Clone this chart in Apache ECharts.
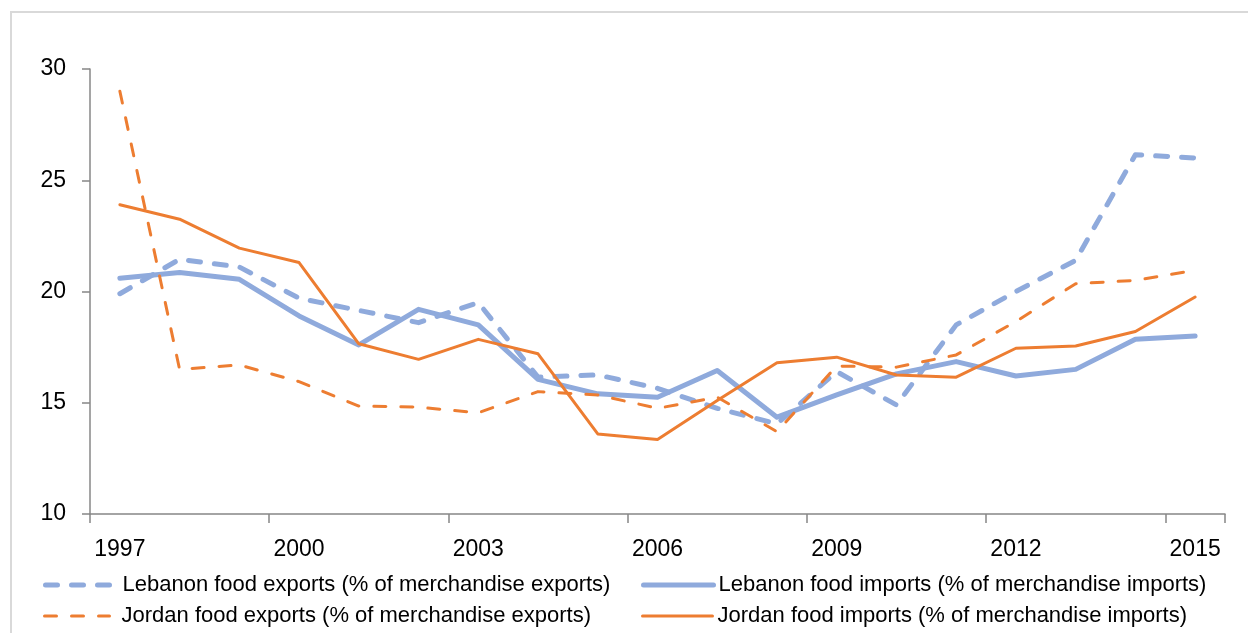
<!DOCTYPE html>
<html>
<head>
<meta charset="utf-8">
<script src="https://cdn.jsdelivr.net/npm/echarts@6/dist/echarts.min.js"></script>
<style>
  html, body { margin: 0; padding: 0; background: #fff; }
  #chart { width: 1248px; height: 633px; }
</style>
</head>
<body>
<div id="chart"></div>
<script>
// Years on the category axis
const years = ['1997','1998','1999','2000','2001','2002','2003','2004','2005','2006',
               '2007','2008','2009','2010','2011','2012','2013','2014','2015'];

// Food trade shares, % of merchandise trade
const lebanonExports = [19.9, 21.45, 21.1, 19.7, 19.15, 18.6, 19.5, 16.15, 16.25, 15.65,
                        14.75, 14.05, 16.4, 14.9, 18.5, 20.0, 21.4, 26.15, 26.0];
const lebanonImports = [20.6, 20.85, 20.55, 18.9, 17.6, 19.2, 18.5, 16.05, 15.4, 15.25,
                        16.45, 14.35, 15.35, 16.3, 16.85, 16.2, 16.5, 17.85, 18.0];
const jordanExports  = [29.0, 16.5, 16.7, 15.95, 14.85, 14.8, 14.55, 15.5, 15.35, 14.75,
                        15.25, 13.7, 16.65, 16.6, 17.15, 18.65, 20.35, 20.5, 20.95];
const jordanImports  = [23.9, 23.25, 21.95, 21.3, 17.65, 16.95, 17.85, 17.2, 13.6, 13.35,
                        15.1, 16.8, 17.05, 16.25, 16.15, 17.45, 17.55, 18.2, 19.75];

const seriesNames = [
  'Lebanon food exports (% of merchandise exports)',
  'Lebanon food imports (% of merchandise imports)',
  'Jordan food exports (% of merchandise exports)',
  'Jordan food imports (% of merchandise imports)'
];

const BLUE = '#8faadc';
const ORANGE = '#ed7d31';
const AXIS = '#878787';
const FONT = 'Liberation Sans';

const styles = [
  { color: BLUE,   width: 5, type: [12, 14], cap: 'round' },
  { color: BLUE,   width: 5, type: 'solid',  cap: 'round' },
  { color: ORANGE, width: 3, type: [12, 15], cap: 'round' },
  { color: ORANGE, width: 3, type: 'solid',  cap: 'round' }
];
const values = [lebanonExports, lebanonImports, jordanExports, jordanImports];

// legend entries laid out in two columns, two rows
const legendPos = [
  { left: 43,  top: 574, itemWidth: 65, pad: 7 },
  { left: 641, top: 574, itemWidth: 70, pad: 0 },
  { left: 43,  top: 605, itemWidth: 65, pad: 7 },
  { left: 641, top: 605, itemWidth: 70, pad: 0 }
];

const chart = echarts.init(document.getElementById('chart'), null, { renderer: 'canvas' });

chart.setOption({
  animation: false,
  backgroundColor: '#fff',
  textStyle: { fontFamily: FONT },
  graphic: [{
    type: 'rect',
    shape: { x: 11, y: 12, width: 1400, height: 800 },
    style: { fill: 'none', stroke: '#d9d9d9', lineWidth: 2 },
    silent: true,
    z: -1
  }],
  grid: { left: 90, right: 23, top: 69, bottom: 119, containLabel: false },
  xAxis: {
    type: 'category',
    data: years,
    boundaryGap: true,
    axisLine: { lineStyle: { color: AXIS, width: 1.5 } },
    axisTick: { show: true, interval: 2, length: 9, lineStyle: { color: AXIS, width: 1.5 } },
    axisLabel: { interval: 2, margin: 24, color: '#000', fontSize: 23, fontFamily: FONT },
    splitLine: { show: false }
  },
  yAxis: {
    type: 'value',
    min: 10, max: 30, interval: 5,
    axisLine: { show: true, lineStyle: { color: AXIS, width: 1.5 } },
    axisTick: { show: true, length: 8, lineStyle: { color: AXIS, width: 1.5 } },
    axisLabel: { margin: 24, color: '#000', fontSize: 23, fontFamily: FONT },
    splitLine: { show: false }
  },
  legend: legendPos.map((p, i) => ({
    show: true,
    orient: 'horizontal',
    left: p.left,
    top: p.top,
    padding: 0,
    itemWidth: p.itemWidth,
    itemHeight: 14,
    selectedMode: false,
    itemStyle: { opacity: 0 },
    lineStyle: {
      color: styles[i].color,
      width: styles[i].width,
      type: styles[i].type,
      cap: styles[i].cap
    },
    textStyle: { color: '#000', fontSize: 22, fontFamily: FONT, padding: [0, 0, 0, p.pad] },
    data: [seriesNames[i]]
  })),
  series: seriesNames.map((name, i) => ({
    name,
    type: 'line',
    data: values[i],
    symbol: 'none',
    smooth: false,
    lineStyle: {
      color: styles[i].color,
      width: styles[i].width,
      type: styles[i].type,
      cap: styles[i].cap,
      join: 'round'
    },
    itemStyle: { color: styles[i].color },
    z: 2 + i
  }))
});
</script>
</body>
</html>
